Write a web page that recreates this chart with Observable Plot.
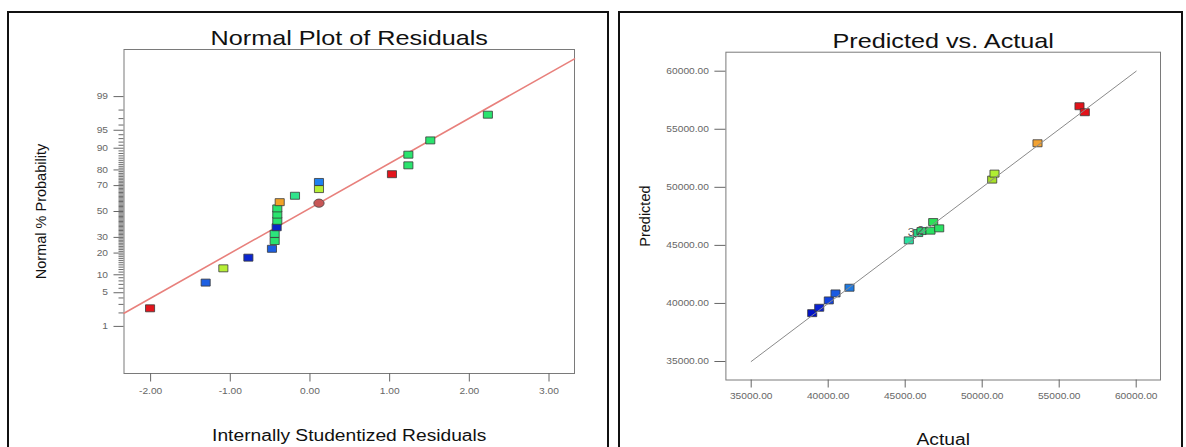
<!DOCTYPE html>
<html><head><meta charset="utf-8">
<script src="https://cdn.jsdelivr.net/npm/d3@7"></script>
<script src="https://cdn.jsdelivr.net/npm/@observablehq/plot@0.6"></script>
<style>
body{margin:0;background:#fff}
#wrap{position:relative;width:1186px;height:447px;overflow:hidden;font-family:"Liberation Sans",Arial,sans-serif}
.panel{position:absolute;border:2px solid #111;box-sizing:border-box}
#wrap svg{position:absolute;top:0}
</style></head>
<body><div id="wrap">
<div class="panel" style="left:7px;top:11px;width:602px;height:460px"></div>
<div class="panel" style="left:618px;top:11px;width:565px;height:460px"></div>
</div>
<script>
// ---------- Data: Normal plot of residuals ----------
const resX = [-2.007, -1.309, -1.087, -0.773, -0.477, -0.443, -0.443, -0.418, -0.41, -0.41, -0.41, -0.38, -0.188, 0.113, 0.113, 1.029, 1.235, 1.235, 1.51, 2.233];
const resP = [2.5, 7.5, 12.5, 17.5, 22.5, 27.5, 32.5, 37.5, 42.5, 47.5, 52.5, 57.5, 62.5, 67.5, 72.5, 77.5, 82.5, 87.5, 92.5, 97.5];
const resColor = ["#e3141c", "#1d5fe2", "#b6ef36", "#0b26d0", "#1d5fe2", "#2ae46e", "#2ce47c", "#0b26c8", "#2ae46e", "#2ae46e", "#2ae46e", "#f2a228", "#30e48c", "#b6ef36", "#1e80f0", "#e3141c", "#2ae46e", "#2ae46e", "#2ae46e", "#2ae46e"];
const meanX = [0.113];
const meanP = [56.7];
const lineX = [-2.334, 3.32];
const lineP = [1.975, 99.9];
const probMajor = [1, 5, 10, 20, 30, 50, 70, 80, 90, 95, 99];
const probMinor = d3.range(1, 100).filter(p => !probMajor.includes(p));
const resXTicks = [-2, -1, 0, 1, 2, 3];

// ---------- Data: Predicted vs Actual ----------
const actual    = [38961, 39416, 40039, 40474, 41383, 45234, 45844, 46058, 46643, 46818, 47208, 50649, 50799, 53591, 56318, 56663];
const predicted = [39164, 39629, 40259, 40862, 41353, 45431, 46060, 46233, 46267, 47009, 46466, 50664, 51181, 53793, 56983, 56466];
const pvColor = ["#0212c8", "#0a22d2", "#1244e0", "#1a5ae2", "#1e7ae2", "#2ae2a2", "#26d682", "#26da72", "#2ae262", "#2ae256", "#2ae262", "#a8e02a", "#b0ef32", "#f2a232", "#e3121a", "#e3121a"];
const countText = ["3", "2"];
const countActual = [45844, 46058];
const countPred = [46060, 46233];
const countDx = [-7, -1];
const refLine = [35000, 60000];
const pvTicks = [35000, 40000, 45000, 50000, 55000, 60000];

// inverse normal CDF (probability paper scale)
function probit(p) {
  const a = [-3.969683028665376e+01, 2.209460984245205e+02, -2.759285104469687e+02, 1.383577518672690e+02, -3.066479806614716e+01, 2.506628277459239e+00];
  const b = [-5.447609879822406e+01, 1.615858368580409e+02, -1.556989798598866e+02, 6.680131188771972e+01, -1.328068155288572e+01];
  const c = [-7.784894002430293e-03, -3.223964580411365e-01, -2.400758277161838e+00, -2.549732539343734e+00, 4.374664141464968e+00, 2.938163982698783e+00];
  const d = [7.784695709041462e-03, 3.224671290700398e-01, 2.445134137142996e+00, 3.754408661907416e+00];
  const pl = 0.02425;
  let q, r;
  if (p < pl) {
    q = Math.sqrt(-2 * Math.log(p));
    return (((((c[0]*q+c[1])*q+c[2])*q+c[3])*q+c[4])*q+c[5]) / ((((d[0]*q+d[1])*q+d[2])*q+d[3])*q+1);
  } else if (p <= 1 - pl) {
    q = p - 0.5; r = q*q;
    return (((((a[0]*r+a[1])*r+a[2])*r+a[3])*r+a[4])*r+a[5])*q / (((((b[0]*r+b[1])*r+b[2])*r+b[3])*r+b[4])*r+1);
  } else {
    q = Math.sqrt(-2 * Math.log(1 - p));
    return -(((((c[0]*q+c[1])*q+c[2])*q+c[3])*q+c[4])*q+c[5]) / ((((d[0]*q+d[1])*q+d[2])*q+d[3])*q+1);
  }
}

const rectSymbol = {draw(ctx, size) {
  const h = Math.sqrt(size / 1.3), w = h * 1.3;
  ctx.moveTo(-w/2, -h/2); ctx.lineTo(w/2, -h/2); ctx.lineTo(w/2, h/2); ctx.lineTo(-w/2, h/2); ctx.closePath();
}};
const ellipseSymbol = {draw(ctx, size) {
  const r = Math.sqrt(size / Math.PI), rx = r * 1.15, ry = r * 0.92, k = 0.5523;
  ctx.moveTo(rx, 0);
  ctx.bezierCurveTo(rx, ry*k, rx*k, ry, 0, ry);
  ctx.bezierCurveTo(-rx*k, ry, -rx, ry*k, -rx, 0);
  ctx.bezierCurveTo(-rx, -ry*k, -rx*k, -ry, 0, -ry);
  ctx.bezierCurveTo(rx*k, -ry, rx, -ry*k, rx, 0);
  ctx.closePath();
}};

const font = '"Liberation Sans", Arial, sans-serif';

// ---------- Left chart ----------
const resData = resX.map((x, i) => ({x, z: probit(resP[i] / 100), color: resColor[i]}));
const meanData = meanX.map((x, i) => ({x, z: probit(meanP[i] / 100)}));
const lineData = lineX.map((x, i) => ({x, z: probit(lineP[i] / 100)}));
const majorZ = probMajor.map(p => probit(p / 100));
const zLabel = new Map(majorZ.map((z, i) => [z, String(probMajor[i])]));

const left = Plot.plot({
  width: 600, height: 447,
  marginLeft: 123.5, marginRight: 26, marginTop: 49, marginBottom: 74,
  style: {fontFamily: font, background: "transparent", overflow: "visible"},
  x: {domain: [-2.334, 3.32]},
  y: {domain: [-3.28, 3.28]},
  color: {type: "identity"},
  marks: [
    Plot.frame({stroke: "#7a7a7a"}),
    Plot.axisY({ticks: probMinor.map(p => probit(p / 100)), tickSize: 5, tickFormat: () => "", color: "#6a6a6a", label: null}),
    Plot.axisY({ticks: majorZ, tickSize: 10, tickPadding: 6, tickFormat: z => zLabel.get(z), color: "#666", fontSize: 8.5, label: null}),
    Plot.axisX({ticks: resXTicks, tickSize: 8.5, tickPadding: 5.5, tickFormat: d => d.toFixed(2), color: "#666", fontSize: 8.5, label: null}),
    Plot.line(lineData, {x: "x", y: "z", stroke: "#e8807c", strokeWidth: 1.6}),
    Plot.dot(resData, {x: "x", y: "z", fill: "color", stroke: "#3a3a3a", strokeWidth: 0.8, r: 4.5, symbol: rectSymbol}),
    Plot.dot(meanData, {x: "x", y: "z", fill: "#c85656", stroke: "#4a4a4a", strokeWidth: 0.8, r: 4.5, symbol: ellipseSymbol}),
    Plot.text(["Normal Plot of Residuals"], {frameAnchor: "top", lineAnchor: "bottom", dy: -5, fontSize: 21, fill: "#111"}),
    Plot.text(["Internally Studentized Residuals"], {frameAnchor: "bottom", lineAnchor: "bottom", dy: 67, fontSize: 16, fill: "#111"}),
    Plot.text(["Normal % Probability"], {frameAnchor: "left", textAnchor: "middle", rotate: -90, dx: -82.5, fontSize: 14.5, fill: "#111"})
  ]
});
left.style.left = "0px";

// ---------- Right chart ----------
const pvData = actual.map((a, i) => ({a, p: predicted[i], color: pvColor[i]}));
const countData = countText.map((t, i) => ({t, a: countActual[i], p: countPred[i]}));
const refData = refLine.map(v => ({a: v, p: v}));

const right = Plot.plot({
  width: 586, height: 447,
  marginLeft: 125.4, marginRight: 26, marginTop: 51.7, marginBottom: 67.5,
  style: {fontFamily: font, background: "transparent", overflow: "visible"},
  x: {domain: [33357, 61578]},
  y: {domain: [33407, 61636]},
  color: {type: "identity"},
  marks: [
    Plot.frame({stroke: "#7a7a7a"}),
    Plot.axisY({ticks: pvTicks, tickSize: 11, tickPadding: 6, tickFormat: d => d.toFixed(2), color: "#666", fontSize: 8.5, label: null}),
    Plot.axisX({ticks: pvTicks, tickSize: 8, tickPadding: 5.3, tickFormat: d => d.toFixed(2), color: "#666", fontSize: 8.5, label: null}),
    Plot.dot(pvData, {x: "a", y: "p", fill: "color", stroke: "#3a3a3a", strokeWidth: 0.8, r: 4.5, symbol: rectSymbol}),
    Plot.line(refData, {x: "a", y: "p", stroke: "#8a8a8a", strokeWidth: 1}),
    Plot.text(countData.slice(0, 1), {x: "a", y: "p", text: "t", dx: countDx[0], fontSize: 10, fill: "#555"}),
    Plot.text(countData.slice(1), {x: "a", y: "p", text: "t", dx: countDx[1], fontSize: 10, fill: "#555"}),
    Plot.text(["Predicted vs. Actual"], {frameAnchor: "top", lineAnchor: "bottom", dy: -4.7, fontSize: 21, fill: "#111"}),
    Plot.text(["Actual"], {frameAnchor: "bottom", lineAnchor: "bottom", dy: 65, fontSize: 16, fill: "#111"}),
    Plot.text(["Predicted"], {frameAnchor: "left", textAnchor: "middle", rotate: -90, dx: -80.4, fontSize: 14.5, fill: "#111"})
  ]
});
right.style.left = "600px";

const wrap = document.getElementById("wrap");
wrap.appendChild(left);
wrap.appendChild(right);

// the reference is horizontally stretched ~1.2x: widen non-rotated text
function stretch(svg, f) {
  svg.querySelectorAll("text").forEach(t => {
    const tr = (t.getAttribute("transform") || "") + (t.parentNode.getAttribute("transform") || "");
    if (tr.includes("rotate")) return;
    const L = t.getComputedTextLength();
    if (L > 0) { t.setAttribute("textLength", L * f); t.setAttribute("lengthAdjust", "spacingAndGlyphs"); }
  });
}
stretch(left, 1.2);
stretch(right, 1.2);
</script>
</body></html>
